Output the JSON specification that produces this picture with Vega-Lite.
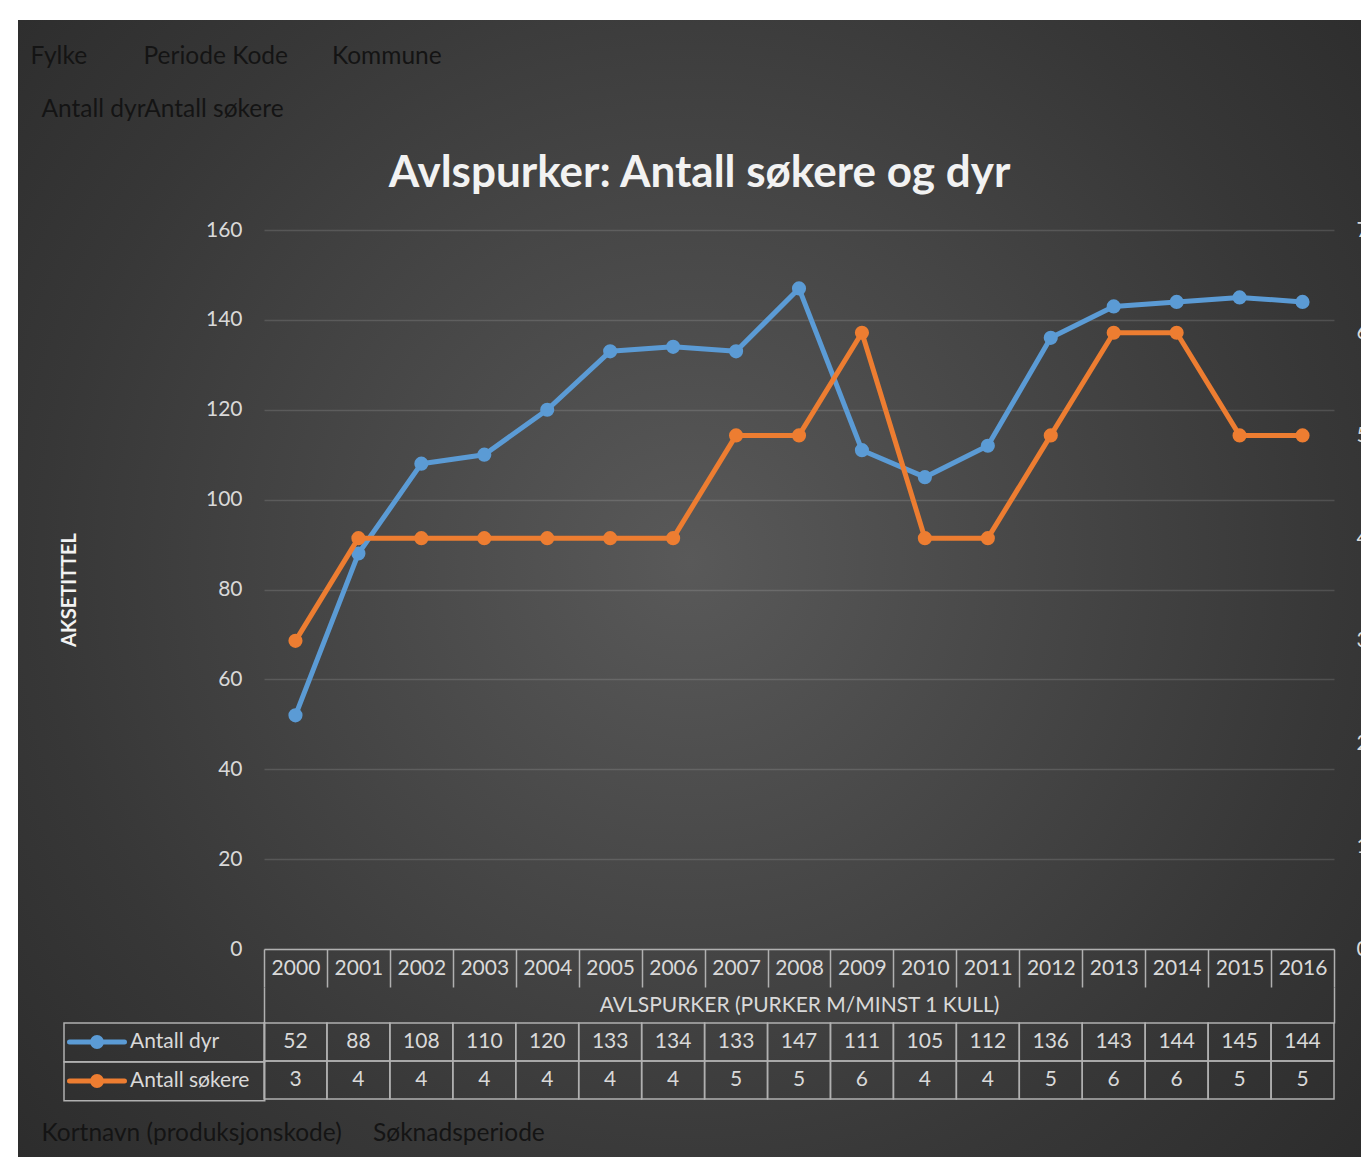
{
  "$schema": "https://vega.github.io/schema/vega-lite/v6.json",
  "width": 1343,
  "height": 1137,
  "autosize": {"type": "none"},
  "padding": {"left": 18, "top": 20, "right": 0, "bottom": 0},
  "background": "#ffffff",
  "config": {
    "font": "Lato",
    "view": {
      "stroke": null,
      "fill": {
        "gradient": "radial",
        "x1": 0.5, "y1": 0.48, "r1": 0,
        "x2": 0.5, "y2": 0.48, "r2": 0.71,
        "stops": [
          {"offset": 0, "color": "#595959"},
          {"offset": 0.68, "color": "#373737"},
          {"offset": 1, "color": "#2a2a2a"}
        ]
      }
    }
  },
  "title": {
    "text": "Avlspurker: Antall søkere og dyr",
    "anchor": "middle",
    "frame": "group",
    "offset": -211,
    "baseline": "alphabetic",
    "font": "Lato",
    "fontSize": 44,
    "fontWeight": "bold",
    "color": "#f2f2f2",
    "dx": 10
  },
  "data": {
    "values": [
      {"year": 2000, "series": "Antall dyr", "value": 52},
      {"year": 2001, "series": "Antall dyr", "value": 88},
      {"year": 2002, "series": "Antall dyr", "value": 108},
      {"year": 2003, "series": "Antall dyr", "value": 110},
      {"year": 2004, "series": "Antall dyr", "value": 120},
      {"year": 2005, "series": "Antall dyr", "value": 133},
      {"year": 2006, "series": "Antall dyr", "value": 134},
      {"year": 2007, "series": "Antall dyr", "value": 133},
      {"year": 2008, "series": "Antall dyr", "value": 147},
      {"year": 2009, "series": "Antall dyr", "value": 111},
      {"year": 2010, "series": "Antall dyr", "value": 105},
      {"year": 2011, "series": "Antall dyr", "value": 112},
      {"year": 2012, "series": "Antall dyr", "value": 136},
      {"year": 2013, "series": "Antall dyr", "value": 143},
      {"year": 2014, "series": "Antall dyr", "value": 144},
      {"year": 2015, "series": "Antall dyr", "value": 145},
      {"year": 2016, "series": "Antall dyr", "value": 144},
      {"year": 2000, "series": "Antall søkere", "value": 3},
      {"year": 2001, "series": "Antall søkere", "value": 4},
      {"year": 2002, "series": "Antall søkere", "value": 4},
      {"year": 2003, "series": "Antall søkere", "value": 4},
      {"year": 2004, "series": "Antall søkere", "value": 4},
      {"year": 2005, "series": "Antall søkere", "value": 4},
      {"year": 2006, "series": "Antall søkere", "value": 4},
      {"year": 2007, "series": "Antall søkere", "value": 5},
      {"year": 2008, "series": "Antall søkere", "value": 5},
      {"year": 2009, "series": "Antall søkere", "value": 6},
      {"year": 2010, "series": "Antall søkere", "value": 4},
      {"year": 2011, "series": "Antall søkere", "value": 4},
      {"year": 2012, "series": "Antall søkere", "value": 5},
      {"year": 2013, "series": "Antall søkere", "value": 6},
      {"year": 2014, "series": "Antall søkere", "value": 6},
      {"year": 2015, "series": "Antall søkere", "value": 5},
      {"year": 2016, "series": "Antall søkere", "value": 5}
    ]
  },
  "layer": [
    {
      "transform": [{"filter": "datum.series === 'Antall dyr'"}],
      "encoding": {
        "x": {
          "field": "year", "type": "ordinal",
          "scale": {"range": [246, 1316], "paddingInner": 0, "paddingOuter": 0},
          "axis": {
            "orient": "bottom", "offset": -208,
            "title": "AVLSPURKER (PURKER M/MINST 1 KULL)",
            "labelAngle": 0, "labelFont": "Lato", "labelFontSize": 21, "labelColor": "#d9d9d9", "labelPadding": -30,
            "domain": true, "domainColor": "#b0b0b0", "domainWidth": 1.5,
            "ticks": true, "tickBand": "extent", "tickSize": 38, "tickColor": "#b0b0b0", "tickWidth": 1.5,
            "titleFont": "Lato", "titleFontSize": 21, "titleFontWeight": "normal", "titleColor": "#d9d9d9", "titlePadding": 7,
            "grid": false
          }
        },
        "y": {
          "field": "value", "type": "quantitative",
          "scale": {"domain": [0, 160], "range": [929, 210]},
          "axis": {
            "orient": "left", "offset": -246, "tickCount": 8,
            "grid": true, "gridColor": "#ffffff", "gridOpacity": 0.13, "gridWidth": 1.5,
            "domain": false, "ticks": false, "tickSize": 0,
            "labelPadding": 22, "labelFont": "Lato", "labelFontSize": 21, "labelColor": "#d9d9d9",
            "title": "AKSETITTEL", "titleFont": "Lato", "titleFontSize": 20, "titleFontWeight": "bold", "titleColor": "#f2f2f2", "titlePadding": 126
          }
        },
        "color": {
          "field": "series", "type": "nominal",
          "scale": {"domain": ["Antall dyr", "Antall søkere"], "range": ["#5b9bd5", "#ed7d31"]},
          "legend": {
            "orient": "none", "legendX": 46, "legendY": 1003,
            "title": null, "direction": "vertical",
            "padding": 0, "rowPadding": -1.5, "clipHeight": 38,
            "symbolType": "M-1,0L1,0M0.16,0A0.16,0.16,0,1,1,-0.16,0A0.16,0.16,0,1,1,0.16,0",
            "symbolSize": 3025, "symbolStrokeWidth": 5, "symbolOffset": 3,
            "labelOffset": 3, "labelFont": "Lato", "labelFontSize": 21, "labelColor": "#d9d9d9",
            "encode": {
              "entries": {"update": {"width": {"value": 200}, "stroke": {"value": "#b0b0b0"}, "strokeWidth": {"value": 1.5}}},
              "symbols": {"update": {"fill": {"scale": "color", "field": "value"}, "stroke": {"scale": "color", "field": "value"}, "strokeCap": {"value": "round"}, "opacity": {"value": 1}, "fillOpacity": {"value": 1}}}
            }
          }
        }
      },
      "layer": [
        {"mark": {"type": "line", "strokeWidth": 5, "strokeCap": "round", "strokeJoin": "round"}},
        {"mark": {"type": "point", "filled": true, "size": 200, "opacity": 1}}
      ]
    },
    {
      "transform": [{"filter": "datum.series === 'Antall søkere'"}],
      "encoding": {
        "x": {
          "field": "year", "type": "ordinal",
          "scale": {"range": [246, 1316], "paddingInner": 0, "paddingOuter": 0},
          "axis": {
            "orient": "top", "labels": false, "ticks": false, "domain": false, "grid": false,
            "title": "Fylke\u00a0\u00a0\u00a0\u00a0\u00a0\u00a0\u00a0\u00a0\u00a0Periode Kode\u00a0\u00a0\u00a0\u00a0\u00a0\u00a0\u00a0Kommune",
            "titleX": 12, "titleY": 36, "titleAlign": "left", "titleAnchor": "start", "titleBaseline": "middle", "titleAngle": 0,
            "titleFont": "Lato", "titleFontSize": 24.5, "titleFontWeight": "normal", "titleColor": "#141414"
          }
        },
        "y": {
          "field": "value", "type": "quantitative",
          "scale": {"domain": [0, 7], "range": [929, 210]},
          "axis": {
            "orient": "right", "offset": -13, "tickCount": 7,
            "grid": false, "domain": false, "ticks": false, "tickSize": 0,
            "labelPadding": 8, "labelFont": "Lato", "labelFontSize": 21, "labelColor": "#d9d9d9",
            "title": "Antall dyrAntall søkere",
            "titleX": -1307, "titleY": 89, "titleAlign": "left", "titleAnchor": "start", "titleBaseline": "middle", "titleAngle": 0,
            "titleFont": "Lato", "titleFontSize": 24.5, "titleFontWeight": "normal", "titleColor": "#141414"
          }
        },
        "color": {"field": "series", "type": "nominal"}
      },
      "layer": [
        {"mark": {"type": "line", "strokeWidth": 5, "strokeCap": "round", "strokeJoin": "round"}},
        {"mark": {"type": "point", "filled": true, "size": 200, "opacity": 1}}
      ]
    },
    {
      "encoding": {
        "x": {
          "field": "year", "type": "ordinal",
          "scale": {"range": [246, 1316], "paddingInner": 0, "paddingOuter": 0},
          "axis": {
            "orient": "bottom", "offset": -134, "labels": false, "domain": false, "grid": false, "title": null,
            "ticks": true, "tickBand": "extent", "tickSize": -36, "tickColor": "#b0b0b0", "tickWidth": 1.5,
            "values": [2000, 2016],
            "tickOpacity": {"condition": {"test": "datum.value === 2000", "value": 0}, "value": 1}
          }
        },
        "y": {
          "field": "series", "type": "nominal",
          "scale": {"domain": ["Antall dyr", "Antall søkere"], "range": [1003, 1079], "paddingInner": 0, "paddingOuter": 0},
          "axis": {
            "orient": "left", "labels": false, "ticks": false, "domain": false, "grid": false,
            "title": "Kortnavn (produksjonskode)\u00a0\u00a0\u00a0\u00a0\u00a0Søknadsperiode",
            "titleX": 23, "titleY": 1113, "titleAlign": "left", "titleAnchor": "start", "titleBaseline": "middle", "titleAngle": 0,
            "titleFont": "Lato", "titleFontSize": 24.5, "titleFontWeight": "normal", "titleColor": "#141414"
          }
        }
      },
      "layer": [
        {"mark": {"type": "rect", "fill": "transparent", "stroke": "#b0b0b0", "strokeWidth": 1.5}},
        {
          "mark": {"type": "text", "font": "Lato", "fontSize": 21, "fill": "#d9d9d9", "baseline": "middle", "align": "center"},
          "encoding": {"text": {"field": "value", "type": "quantitative"}}
        }
      ]
    }
  ],
  "resolve": {"scale": {"x": "independent", "y": "independent"}}
}
